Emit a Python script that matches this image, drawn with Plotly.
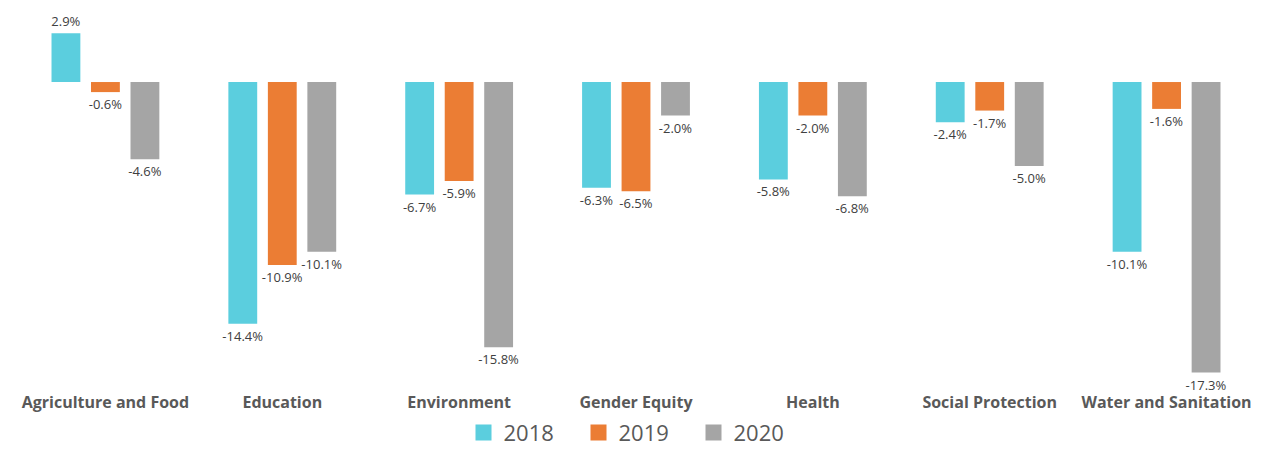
import plotly.graph_objects as go

categories = ["Agriculture and Food", "Education", "Environment", "Gender Equity",
              "Health", "Social Protection", "Water and Sanitation"]
years = ["2018", "2019", "2020"]
values_2018 = [2.9, -14.4, -6.7, -6.3, -5.8, -2.4, -10.1]
values_2019 = [-0.6, -10.9, -5.9, -6.5, -2.0, -1.7, -1.6]
values_2020 = [-4.6, -10.1, -15.8, -2.0, -6.8, -5.0, -17.3]
colors = ["#5BCEDE", "#EB7D34", "#A5A5A5"]

fig = go.Figure()
for name, vals, col in zip(years, [values_2018, values_2019, values_2020], colors):
    fig.add_trace(go.Bar(
        x=categories, y=vals, name=name, marker=dict(color=col, line=dict(width=0)),
        text=[f"{v:.1f}%" for v in vals], textposition="outside",
        constraintext="none",
        textfont=dict(size=13, color="#404040", family="Open Sans"),
        cliponaxis=False, showlegend=False,
    ))
    fig.add_trace(go.Scatter(
        x=[None], y=[None], mode="markers", name=name,
        marker=dict(symbol="square", size=20, color=col),
    ))

fig.update_layout(
    width=1266, height=451,
    margin=dict(l=9, r=19, t=3, b=68, autoexpand=False),
    plot_bgcolor="white", paper_bgcolor="white",
    barmode="group", bargap=0.33, bargroupgap=0.27,
    font=dict(family="Open Sans", color="#595959"),
    showlegend=True,
    legend=dict(orientation="h", x=0.5, xanchor="center",
                y=-0.11, yanchor="middle",
                entrywidth=70, entrywidthmode="pixels",
                font=dict(size=22, color="#595959"), itemsizing="trace"),
)
fig.update_xaxes(showgrid=False, showline=False, zeroline=False, automargin=False,
                 ticks="",
                 tickfont=dict(size=16, color="#595959", family="Open Sans", weight="bold"))
fig.update_yaxes(range=[-18.4, 4.23], showgrid=False, zeroline=False, showticklabels=False,
                 showline=False, ticks="", automargin=False)

fig.write_html("out.html")
